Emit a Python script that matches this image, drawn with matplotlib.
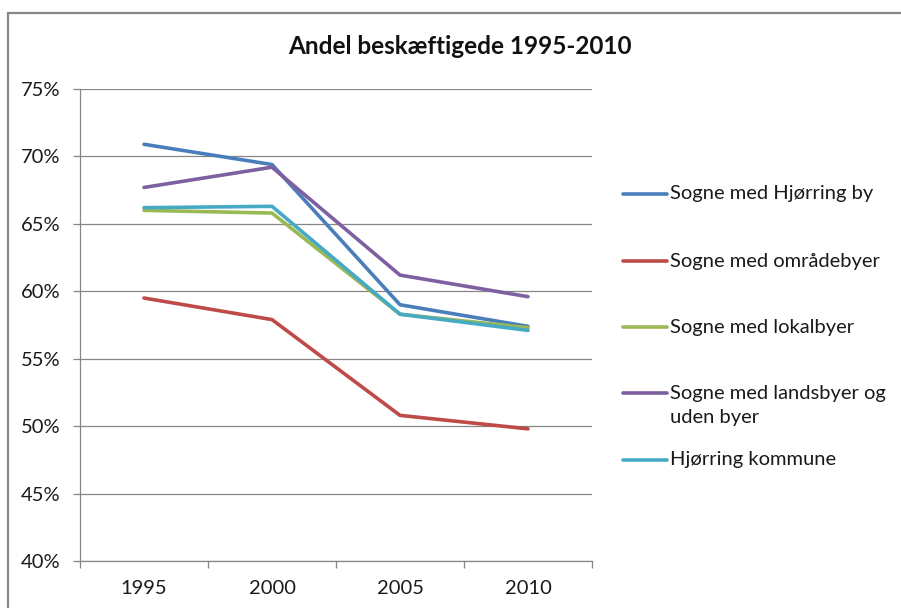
import matplotlib
matplotlib.use("Agg")
import matplotlib.pyplot as plt
from matplotlib.patches import Rectangle
from matplotlib.lines import Line2D
from matplotlib.ticker import FuncFormatter, FixedLocator, NullFormatter

plt.rcParams['font.family'] = ['Lato', 'DejaVu Sans']

years = ["1995", "2000", "2005", "2010"]
series_names = [
    "Sogne med Hjørring by",
    "Sogne med områdebyer",
    "Sogne med lokalbyer",
    "Sogne med landsbyer og\nuden byer",
    "Hjørring kommune",
]
hjoerring_by = [70.9, 69.4, 59.0, 57.4]
omraadebyer = [59.5, 57.9, 50.8, 49.8]
lokalbyer = [66.0, 65.8, 58.3, 57.3]
landsbyer = [67.7, 69.2, 61.2, 59.6]
kommune = [66.2, 66.3, 58.3, 57.1]
values = [hjoerring_by, omraadebyer, lokalbyer, landsbyer, kommune]
colors = ["#4A7EBB", "#BE4B48", "#98B954", "#7D60A0", "#46AAC5"]
y_ticks = [40, 45, 50, 55, 60, 65, 70, 75]

W, H = 901, 608
TXT = "#1a1a1a"
fig = plt.figure(figsize=(W / 100, H / 100), dpi=100)

# outer chart frame (runs off the right and bottom edges)
fig.add_artist(Rectangle((8 / W, -0.1), 1.2, (1 - 13 / H) + 0.1,
                         transform=fig.transFigure, fill=False,
                         edgecolor="#868686", linewidth=1.6, clip_on=False))

ax = fig.add_axes([80 / W, 1 - 561 / H, (592 - 80) / W, (561 - 89) / H])
x = list(range(len(years)))
for vals, c in zip(values, colors):
    ax.plot(x, vals, color=c, linewidth=2.6, solid_joinstyle="round",
            solid_capstyle="round", zorder=3)

ax.set_xlim(-0.5, len(years) - 0.5)
ax.set_ylim(40, 75)
ax.set_yticks(y_ticks)
ax.yaxis.set_major_formatter(FuncFormatter(lambda v, p: f"{v:.0f}%"))
ax.grid(axis="y", color="#868686", linewidth=0.9)
ax.set_axisbelow(True)

# category axis: tick marks between categories, labels centred on them
ax.xaxis.set_major_locator(FixedLocator([i - 0.5 for i in range(len(years) + 1)]))
ax.xaxis.set_major_formatter(NullFormatter())
ax.xaxis.set_minor_locator(FixedLocator(x))
ax.set_xticklabels(years, minor=True)
ax.tick_params(axis="x", which="minor", length=0, pad=14, labelsize=14.5, labelcolor=TXT)
ax.tick_params(axis="x", which="major", length=5, color="#868686", width=0.9)
ax.tick_params(axis="y", length=5, color="#868686", width=0.9, pad=9,
               labelsize=14.5, labelcolor=TXT)

for side in ("top", "right"):
    ax.spines[side].set_visible(False)
for side in ("left", "bottom"):
    ax.spines[side].set_color("#868686")
    ax.spines[side].set_linewidth(0.9)

fig.text(460 / W, 1 - 47 / H, "Andel beskæftigede 1995-2010", ha="center", va="center",
         fontsize=17.5, fontweight="bold", color="#111111")

# legend: swatch + label, one row per series
legend_rows = [194, 261, 327, 393, 460]
for name, c, ypx in zip(series_names, colors, legend_rows):
    yf = 1 - ypx / H
    fig.add_artist(Line2D([623 / W, 667 / W], [yf, yf], transform=fig.transFigure,
                          color=c, linewidth=2.6, solid_capstyle="round"))
    for k, part in enumerate(name.split("\n")):
        fig.text(670 / W, 1 - (ypx + 25 * k) / H, part, ha="left", va="center",
                 fontsize=14.5, color=TXT)

fig.savefig("out.png", dpi=100)
